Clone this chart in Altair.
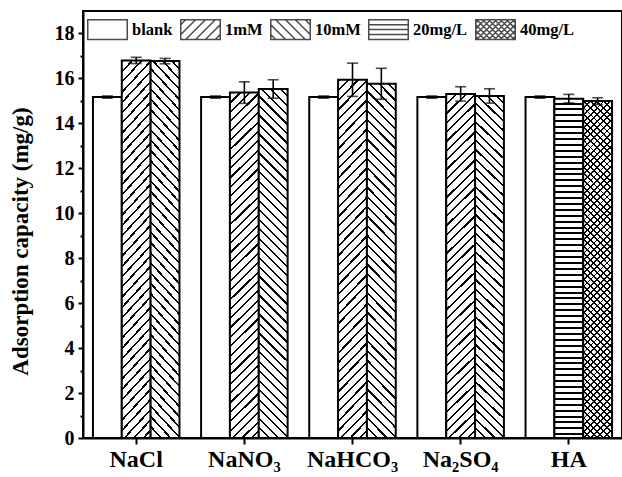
import altair as alt
import pandas as pd

# ---------------- data ----------------
groups = ["NaCl", "NaNO₃", "NaHCO₃", "Na₂SO₄", "HA"]
series_names = ["blank", "1mM", "10mM", "20mg/L", "40mg/L"]

blank_vals = [15.17, 15.17, 15.17, 15.17, 15.17]
blank_err = [0.05, 0.05, 0.05, 0.05, 0.05]
mM1_vals = [16.80, 15.37, 15.94, 15.31]
mM1_err = [0.14, 0.48, 0.74, 0.32]
mM10_vals = [16.77, 15.53, 15.76, 15.22]
mM10_err = [0.12, 0.41, 0.69, 0.32]
ha20_vals = [15.10]
ha20_err = [0.19]
ha40_vals = [14.99]
ha40_err = [0.15]

rows = []
for i, g in enumerate(groups):
    rows.append({"group": g, "series": "blank", "slot": 0, "value": blank_vals[i], "err": blank_err[i]})
    if i < 4:
        rows.append({"group": g, "series": "1mM", "slot": 1, "value": mM1_vals[i], "err": mM1_err[i]})
        rows.append({"group": g, "series": "10mM", "slot": 2, "value": mM10_vals[i], "err": mM10_err[i]})
    else:
        rows.append({"group": g, "series": "20mg/L", "slot": 1, "value": ha20_vals[0], "err": ha20_err[0]})
        rows.append({"group": g, "series": "40mg/L", "slot": 2, "value": ha40_vals[0], "err": ha40_err[0]})
df = pd.DataFrame(rows)
df["lo"] = df["value"] - df["err"]
df["hi"] = df["value"] + df["err"]

FONT = "Liberation Serif"


# ---------------- pattern styles (gradients used as hatching) ----------------
def diag_gradient(direction, period_px, line_px, bar_w, bar_h, dark, light, n):
    r = bar_h / bar_w
    D = bar_w * (1 + r * r)
    dt = period_px / D
    frac = line_px / period_px
    stops = []
    for k in range(n):
        a = k * dt
        b = a + dt * frac
        c = a + dt
        stops += [
            {"offset": round(a, 6), "color": dark},
            {"offset": round(b, 6), "color": dark},
            {"offset": round(b, 6), "color": light},
            {"offset": round(c, 6), "color": light},
        ]
    if direction == "fwd":
        return {"gradient": "linear", "x1": 0, "y1": 0, "x2": 1, "y2": r, "stops": stops}
    return {"gradient": "linear", "x1": 0, "y1": 1, "x2": 1, "y2": 1 - r, "stops": stops}


def horiz_gradient(period_px, line_px, bar_h, dark, light):
    dt = period_px / bar_h
    gap = dt - dt * line_px / period_px
    stops = []
    k = 0
    while (k + 1) * dt <= 1.0:
        a = k * dt
        c = a + dt
        stops += [
            {"offset": round(a, 6), "color": light},
            {"offset": round(a + gap, 6), "color": light},
            {"offset": round(a + gap, 6), "color": dark},
            {"offset": round(c, 6), "color": dark},
        ]
        k += 1
    last = k * dt
    stops += [{"offset": round(last, 6), "color": light}, {"offset": 1, "color": light}]
    return {"gradient": "linear", "x1": 0, "y1": 0, "x2": 0, "y2": 1, "stops": stops}


BW = 28.9
fill_1mM = diag_gradient("fwd", 9.5, 2.2, BW, 350, "black", "white", 50)
fill_10mM = diag_gradient("back", 9.5, 2.2, BW, 350, "black", "white", 50)
fill_20 = horiz_gradient(5.9, 2.0, 339, "black", "white")
fill_40a = diag_gradient("fwd", 6.6, 1.9, BW, 337, "black", "rgba(255,255,255,0)", 70)
fill_40b = diag_gradient("back", 6.6, 1.9, BW, 337, "black", "rgba(255,255,255,0)", 70)


# ---------------- legend symbols (custom paths) ----------------
def seg_path(kind, step):
    out = []
    c = -1.5 + step / 2
    while c < 1.5:
        xa = max(-1.0, c - 0.5)
        xb = min(1.0, c + 0.5)
        if xb - xa > 0.02:
            if kind == "fwd":
                ya, yb = c - xa, c - xb
            else:
                ya, yb = xa - c, xb - c
            out.append(f"M{xa:.3f},{ya:.3f}L{xb:.3f},{yb:.3f}")
        c += step
    return "".join(out)


box = "M-1,-0.5L1,-0.5L1,0.5L-1,0.5Z"
sym_blank = box
sym_1mM = box + seg_path("fwd", 0.5)
sym_10mM = box + seg_path("back", 0.5)
sym_20 = box + "M-1,-0.25L1,-0.25M-1,0L1,0M-1,0.25L1,0.25"
sym_40 = box + seg_path("fwd", 0.3) + seg_path("back", 0.3)
symbol_paths = [sym_blank, sym_1mM, sym_10mM, sym_20, sym_40]
SYM_SIZE = 1560

# ---------------- encodings ----------------
x_enc = alt.X(
    "group:N",
    sort=groups,
    scale=alt.Scale(domain=groups, paddingInner=0.2, paddingOuter=0.092),
    axis=alt.Axis(title=None, labelAngle=0, labelFontSize=24, labelPadding=3, tickSize=6,
                  labelFont=FONT, labelFontWeight="bold", labelColor="black"),
)
xo_enc = alt.XOffset("slot:N", scale=alt.Scale(domain=[0, 1, 2], paddingInner=0, paddingOuter=0))
y_scale = alt.Scale(domain=[0, 19], nice=False, zero=True)

base = alt.Chart(df)

# points placed outside the (clipped) plot; they only drive the legend
legend_layer = base.mark_point(filled=False, color="black", strokeWidth=1.5,
                               size=SYM_SIZE, clip=True).encode(
    x=x_enc,
    xOffset=xo_enc,
    y=alt.value(-3000),
    shape=alt.Shape(
        "series:N",
        scale=alt.Scale(domain=series_names, range=symbol_paths),
        legend=alt.Legend(
            title=None, orient="none", legendX=4, legendY=-2.2, direction="horizontal",
            columns=5, symbolSize=SYM_SIZE, symbolStrokeWidth=1.5,
            labelFont=FONT, labelFontSize=16.5, labelFontWeight="bold", labelColor="black",
            labelOffset=4, columnPadding=4, padding=0,
        ),
    ),
)


def bar_layer(series, fill, stroke=True, y_axis=None):
    if stroke:
        mark = dict(fill=fill, stroke="black", strokeWidth=2)
    else:
        mark = dict(fill=fill, strokeWidth=0)
    return base.transform_filter(alt.datum.series == series).mark_bar(**mark).encode(
        x=x_enc,
        xOffset=xo_enc,
        y=alt.Y("value:Q", scale=y_scale, axis=y_axis),
    )


main_y_axis = alt.Axis(
    values=list(range(0, 19, 2)), tickSize=5, labelFontSize=20, labelPadding=4,
    labelFont=FONT, labelFontWeight="bold", labelColor="black", orient="left",
    title="Adsorption capacity (mg/g)", titleFontSize=23, titleFont=FONT,
    titleFontWeight="bold", titleColor="black", titleX=-51, titleY=230,
    titleAngle=270, titleBaseline="bottom",
)
minor_y_axis = alt.Axis(
    values=list(range(1, 19, 2)), tickSize=3, labels=False, domain=False, title=None,
    orient="left",
)

bars_blank = bar_layer("blank", "white", y_axis=main_y_axis)
bars_1 = bar_layer("1mM", fill_1mM)
bars_10 = bar_layer("10mM", fill_10mM)
bars_20 = bar_layer("20mg/L", fill_20)
bars_40base = bar_layer("40mg/L", "white", stroke=False)
bars_40a = bar_layer("40mg/L", fill_40a, stroke=False)
bars_40b = bar_layer("40mg/L", fill_40b)

minor_layer = base.mark_bar(opacity=0).encode(
    x=x_enc, xOffset=xo_enc, y=alt.Y("value:Q", scale=y_scale, axis=minor_y_axis)
)

err_rule = base.mark_rule(color="black", strokeWidth=1.6).encode(
    x=x_enc, xOffset=xo_enc,
    y=alt.Y("lo:Q", scale=y_scale, axis=None), y2="hi:Q",
)
cap_hi = base.mark_tick(color="black", size=11, thickness=1.6, orient="horizontal").encode(
    x=x_enc, xOffset=xo_enc, y=alt.Y("hi:Q", scale=y_scale, axis=None),
)
cap_lo = base.mark_tick(color="black", size=11, thickness=1.6, orient="horizontal").encode(
    x=x_enc, xOffset=xo_enc, y=alt.Y("lo:Q", scale=y_scale, axis=None),
)

chart = alt.layer(
    legend_layer, minor_layer, bars_blank, bars_1, bars_10, bars_20,
    bars_40base, bars_40a, bars_40b, err_rule, cap_hi, cap_lo,
).resolve_axis(y="independent").properties(
    width=539, height=427,
    padding={"left": 83, "top": 11, "right": 0, "bottom": 39},
    autosize=alt.AutoSizeParams(type="none"),
    background="white",
).configure_view(
    stroke="black", strokeWidth=2,
).configure_axis(
    grid=False, domainColor="black", domainWidth=2, tickColor="black", tickWidth=2,
    labelFont=FONT, titleFont=FONT,
)

chart.save("out.html", embed_options={"renderer": "svg", "actions": False})
